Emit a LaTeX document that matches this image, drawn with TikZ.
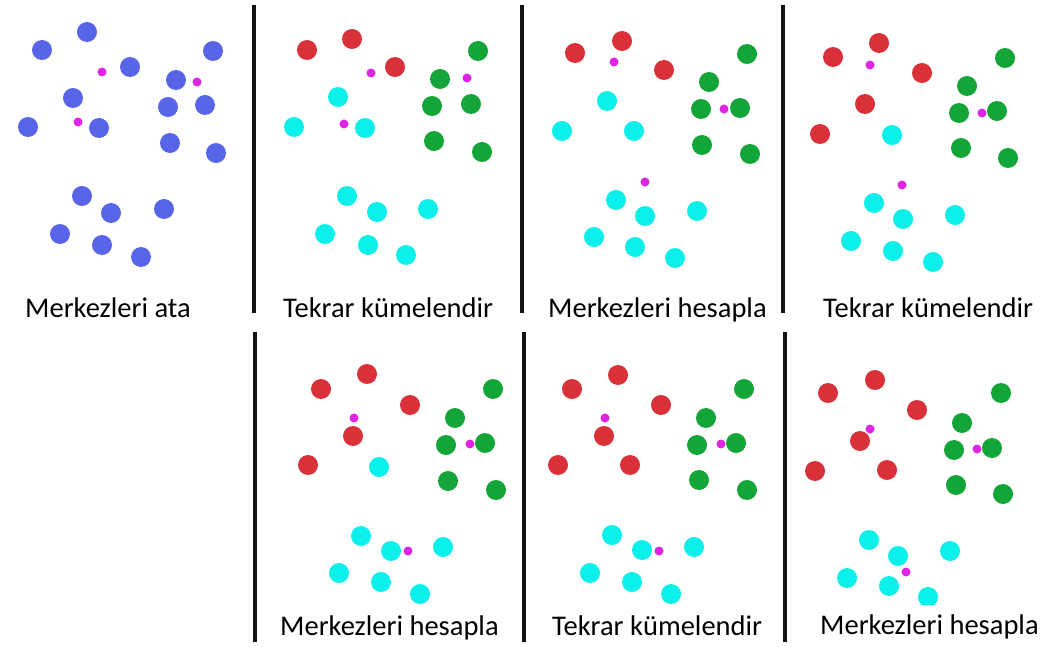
\documentclass[tikz,border=0pt]{standalone}
\usepackage{fontspec}
\setmainfont{Carlito}
\definecolor{ptblue}{HTML}{5865E8}
\definecolor{ptred}{HTML}{D9303A}
\definecolor{ptgreen}{HTML}{13A538}
\definecolor{ptcyan}{HTML}{0CF0EC}
\definecolor{ptcenter}{HTML}{E024E6}
\newcommand{\ptset}[2]{\foreach \x/\y in {#2} \fill[#1] (\x,\y) circle (10pt);}
\newcommand{\ctrset}[1]{\foreach \x/\y in {#1} \fill[ptcenter] (\x,\y) circle (4.5pt);}
\begin{document}
\begin{tikzpicture}[x=1pt, y=-1pt,
    sep/.style={line width=4pt, black!92},
    lbl/.style={anchor=base west, inner sep=0pt, font=\fontsize{28.5}{33}\selectfont}]
    \useasboundingbox (0,0) rectangle (1045,647);

    % separators
    \foreach \x in {254,522,783}
        \draw[sep] (\x,5) -- (\x,313);
    \foreach \x in {255,524,785}
        \draw[sep] (\x,332) -- (\x,642);

    % 1: assign centers
    \ptset{ptblue}{87/32,42/50,213/51,130/67,176/80,73/98,168/107,205/105,28/127,
        99/128,170/143,216/153,82/196,111/213,164/209,60/234,102/245,141/257}
    \ctrset{102/72,197/82,78/122}
    \node[lbl] (ata) at (25,318) {Merkezleri ata};

    % 2: recluster
    \ptset{ptred}{307/50,352/39,395/67}
    \ptset{ptgreen}{478/51,440/79,432/106,471/104,434/141,482/152}
    \ptset{ptcyan}{338/97,294/127,365/128,347/196,377/212,428/209,325/234,368/245,406/255}
    \ctrset{371/73,467/78,344/124}
    \node[lbl] (kume1) at (283,318) {Tekrar kümelendir};

    % 3: compute centers
    \ptset{ptred}{575/53,622/41,664/70}
    \ptset{ptgreen}{747/54,709/82,701/109,740/108,702/145,750/154}
    \ptset{ptcyan}{607/101,562/131,634/131,616/200,645/216,697/211,594/237,635/247,675/258}
    \ctrset{614/62,724/109,645/182}
    \node[lbl] (hesap1) at (548,318) {Merkezleri hesapla};

    % 4: recluster
    \ptset{ptred}{833/57,879/43,922/73,865/104,820/134}
    \ptset{ptgreen}{1005/58,967/86,959/113,997/111,961/148,1008/158}
    \ptset{ptcyan}{892/135,874/203,903/219,955/215,851/241,893/251,933/262}
    \ctrset{870/65,982/113,902/185}
    \node[lbl] (kume2) at (823,318) {Tekrar kümelendir};

    % 5: compute centers
    \ptset{ptred}{321/389,367/374,410/405,353/436,308/465}
    \ptset{ptgreen}{493/389,455/418,446/445,485/443,448/481,496/490}
    \ptset{ptcyan}{379/467,361/536,391/551,443/547,339/573,381/582,420/594}
    \ctrset{354/418,470/444,408/551}
    \node[lbl] (hesap2) at (280,635) {Merkezleri hesapla};

    % 6: recluster
    \ptset{ptred}{572/389,618/375,661/405,604/436,558/465,630/465}
    \ptset{ptgreen}{744/389,706/418,697/445,736/443,699/480,747/490}
    \ptset{ptcyan}{612/535,642/550,694/547,590/573,632/582,671/594}
    \ctrset{605/418,721/444,659/551}
    \node[lbl] (kume3) at (552,635) {Tekrar kümelendir};

    % 7: compute centers
    \ptset{ptred}{828/393,875/380,917/410,860/441,815/471,887/470}
    \ptset{ptgreen}{1001/393,962/423,954/450,992/448,956/485,1003/494}
    \ptset{ptcyan}{869/540,898/556,950/551,847/578,889/586}
    \begin{scope}
        \clip (900,570) rectangle (960,604);
        \ptset{ptcyan}{928/597}
    \end{scope}
    \ctrset{870/429,977/449,906/572}
    \node[lbl] (hesap3) at (820,634) {Merkezleri hesapla};
\end{tikzpicture}
\end{document}
